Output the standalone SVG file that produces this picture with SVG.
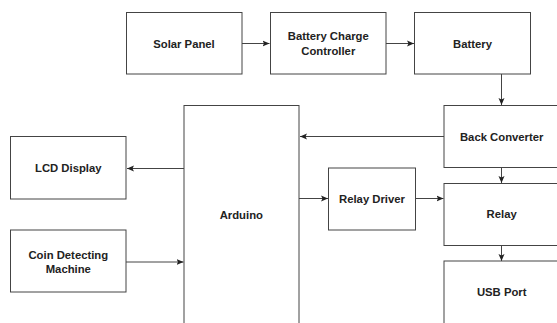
<svg xmlns="http://www.w3.org/2000/svg" width="557" height="323" viewBox="0 0 557 323">
<style>
.box{fill:#fff;stroke:#444;stroke-width:1}
.lbl{font-family:"Liberation Sans",Arial,sans-serif;font-size:11.3px;font-weight:bold;fill:#222;text-anchor:middle}
.edge{fill:none;stroke:#444;stroke-width:1}
</style>
<defs>
<marker id="arr" markerUnits="userSpaceOnUse" markerWidth="8" markerHeight="8" viewBox="0 0 8 8" refX="7" refY="4" orient="auto">
<path d="M0,1 L7,4 L0,7 L1.5,4 z" fill="#222"/>
</marker>
</defs>
<rect width="557" height="323" fill="#fff"/>
<g id="connectors">
<path class="edge" d="M242,43.5 H269.5" marker-end="url(#arr)"/>
<path class="edge" d="M386,43.5 H414" marker-end="url(#arr)"/>
<path class="edge" d="M501.5,74 V105" marker-end="url(#arr)"/>
<path class="edge" d="M444,136.5 H300" marker-end="url(#arr)"/>
<path class="edge" d="M501.5,168 V183" marker-end="url(#arr)"/>
<path class="edge" d="M299,198.5 H328" marker-end="url(#arr)"/>
<path class="edge" d="M415.5,198.5 H443.5" marker-end="url(#arr)"/>
<path class="edge" d="M501.5,245.5 V261" marker-end="url(#arr)"/>
<path class="edge" d="M184,168.5 H127" marker-end="url(#arr)"/>
<path class="edge" d="M126,262 H183.5" marker-end="url(#arr)"/>
</g>
<g id="solar-panel"><rect class="box" x="126.5" y="12.5" width="115.5" height="61.5"/><text class="lbl" x="184" y="47.5">Solar Panel</text></g>
<g id="charge-controller"><rect class="box" x="270.5" y="12.5" width="115.5" height="61.5"/><text class="lbl" x="328.3" y="39.5">Battery Charge</text><text class="lbl" x="328.3" y="54.5">Controller</text></g>
<g id="battery"><rect class="box" x="414.5" y="12.5" width="116" height="61.5"/><text class="lbl" x="472.5" y="47.5">Battery</text></g>
<g id="back-converter"><rect class="box" x="444" y="105.5" width="116" height="62"/><text class="lbl" x="501.7" y="140.7">Back Converter</text></g>
<g id="arduino"><rect class="box" x="184" y="105.5" width="115" height="219"/><text class="lbl" x="241.3" y="219">Arduino</text></g>
<g id="lcd-display"><rect class="box" x="10.5" y="136.5" width="115.5" height="62.5"/><text class="lbl" x="68.3" y="172">LCD Display</text></g>
<g id="coin-detecting"><rect class="box" x="10.5" y="230" width="115.5" height="62"/><text class="lbl" x="68.3" y="258.5">Coin Detecting</text><text class="lbl" x="68.3" y="273">Machine</text></g>
<g id="relay-driver"><rect class="box" x="328.5" y="168" width="87" height="62"/><text class="lbl" x="372" y="203">Relay Driver</text></g>
<g id="relay"><rect class="box" x="444" y="183.5" width="116" height="62"/><text class="lbl" x="501.7" y="218.3">Relay</text></g>
<g id="usb-port"><rect class="box" x="444" y="261" width="116" height="64"/><text class="lbl" x="501.7" y="295.7">USB Port</text></g>
</svg>
